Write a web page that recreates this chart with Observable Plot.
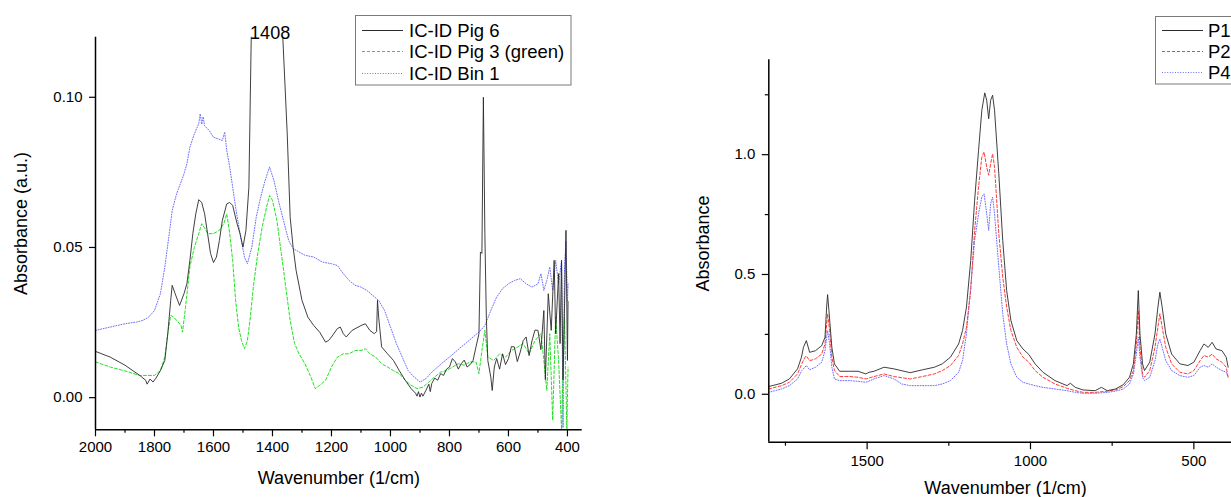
<!DOCTYPE html>
<html>
<head>
<meta charset="utf-8">
<script src="https://cdn.jsdelivr.net/npm/d3@7"></script>
<script src="https://cdn.jsdelivr.net/npm/@observablehq/plot@0.6"></script>
<style>
  html, body { margin: 0; padding: 0; background: #fff; }
  #wrap { position: relative; width: 1231px; height: 497px; overflow: hidden; font-family: "Liberation Sans", Arial, sans-serif; }
  .panel { position: absolute; top: 0; }
  .panel svg { max-width: none !important; }
  #legends { position: absolute; left: 0; top: 0; }
</style>
</head>
<body>
<div id="wrap">
  <div id="leftPanel" class="panel" style="left:0;width:600px"></div>
  <div id="rightPanel" class="panel" style="left:600px;width:660px"></div>
  <svg id="legends" width="1231" height="497"></svg>
</div>
<script>
// ---------------- LEFT PANEL DATA: [wavenumber, absorbance] ----------------
const pig6 = [[2000,0.0154],[1950,0.0135],[1900,0.0108],[1850,0.0074],[1830,0.0058],[1825,0.0045],[1815,0.0062],[1805,0.0052],[1795,0.0065],[1780,0.009],[1765,0.0124],[1755,0.0213],[1745,0.0324],[1740,0.0374],[1730,0.0346],[1715,0.0307],[1700,0.0346],[1690,0.038],[1680,0.0457],[1670,0.0546],[1660,0.0612],[1650,0.0659],[1640,0.065],[1630,0.0612],[1620,0.0546],[1610,0.048],[1600,0.045],[1590,0.0468],[1580,0.0523],[1570,0.059],[1555,0.0645],[1545,0.065],[1535,0.064],[1520,0.0579],[1510,0.0546],[1500,0.0501],[1490,0.0557],[1480,0.070],[1472,0.12],[1460,0.14],[1440,0.155],[1420,0.163],[1408,0.166],[1395,0.16],[1380,0.145],[1365,0.12],[1350,0.0878],[1340,0.060],[1330,0.050],[1320,0.0424],[1300,0.0324],[1280,0.0268],[1260,0.024],[1240,0.0218],[1220,0.0185],[1210,0.019],[1200,0.0202],[1180,0.023],[1170,0.0235],[1160,0.0213],[1150,0.0202],[1130,0.0224],[1100,0.024],[1085,0.0246],[1070,0.0224],[1055,0.0213],[1047,0.022],[1044,0.0324],[1040,0.0268],[1030,0.0169],[1010,0.0146],[990,0.0124],[970,0.009],[950,0.0058],[930,0.003],[915,0.0015],[910,0.0005],[905,0.002],[900,0.0002],[895,0.0015],[890,0.0005],[880,0.0024],[870,0.0045],[865,0.002],[860,0.0047],[850,0.0065],[840,0.0058],[830,0.008],[820,0.0074],[810,0.0095],[800,0.0102],[790,0.013],[780,0.0119],[770,0.0095],[760,0.0113],[750,0.0125],[740,0.0102],[730,0.011],[720,0.0124],[710,0.0169],[700,0.0213],[695,0.0485],[690,0.048],[685,0.100],[680,0.0546],[675,0.0268],[670,0.0124],[660,0.0069],[655,0.0024],[648,0.0102],[640,0.013],[630,0.0095],[620,0.0146],[610,0.011],[600,0.013],[590,0.017],[580,0.0169],[570,0.012],[560,0.0152],[550,0.019],[540,0.0202],[530,0.014],[520,0.019],[510,0.0225],[500,0.0224],[490,0.016],[480,0.029],[475,0.006],[465,0.0346],[455,0.0224],[445,0.0457],[440,0.0213],[430,0.0413],[425,0.018],[420,0.0457],[415,0.006],[410,0.03],[405,0.0557],[400,0.0124],[398,0.032]];

const pig3 = [[2000,0.0119],[1950,0.0102],[1900,0.0089],[1850,0.0074],[1800,0.0074],[1780,0.009],[1765,0.0135],[1755,0.0213],[1745,0.0274],[1735,0.0268],[1720,0.0252],[1710,0.024],[1705,0.0218],[1695,0.030],[1680,0.0435],[1665,0.050],[1650,0.0546],[1640,0.0579],[1630,0.0565],[1620,0.0546],[1600,0.0546],[1580,0.0557],[1565,0.0579],[1555,0.0612],[1545,0.0546],[1535,0.0457],[1525,0.0324],[1515,0.0235],[1505,0.019],[1495,0.0163],[1485,0.019],[1475,0.0268],[1465,0.0368],[1450,0.048],[1435,0.0568],[1420,0.0634],[1410,0.0673],[1400,0.0657],[1385,0.059],[1370,0.048],[1355,0.0368],[1340,0.0257],[1325,0.018],[1310,0.0146],[1290,0.0113],[1270,0.0069],[1255,0.003],[1240,0.0041],[1220,0.0058],[1200,0.0102],[1180,0.0135],[1160,0.0146],[1140,0.0146],[1120,0.0157],[1100,0.0157],[1085,0.0163],[1070,0.0146],[1050,0.0135],[1030,0.0113],[1010,0.0102],[990,0.009],[970,0.008],[950,0.0058],[930,0.0041],[910,0.003],[890,0.0035],[870,0.0052],[850,0.0069],[830,0.0085],[810,0.009],[790,0.0102],[770,0.0113],[750,0.0108],[730,0.0119],[710,0.0119],[700,0.008],[690,0.0157],[680,0.0224],[670,0.0135],[650,0.0124],[630,0.0146],[610,0.0135],[590,0.0157],[570,0.0168],[550,0.018],[530,0.0146],[510,0.019],[490,0.0213],[480,0.0124],[470,0.0024],[460,0.0213],[450,-0.0075],[440,0.0268],[430,0.0124],[420,-0.0105],[410,0.0268],[402,-0.0105],[398,0.0102]];

const bin1 = [[2000,0.0224],[1950,0.0235],[1900,0.0246],[1860,0.0252],[1840,0.0257],[1820,0.0268],[1800,0.029],[1780,0.0346],[1765,0.0435],[1750,0.0546],[1740,0.0623],[1725,0.0679],[1710,0.0718],[1700,0.0745],[1690,0.0779],[1680,0.0834],[1665,0.0878],[1650,0.0912],[1645,0.0945],[1640,0.091],[1635,0.0935],[1630,0.0905],[1615,0.089],[1600,0.0867],[1585,0.0862],[1570,0.0856],[1562,0.0884],[1555,0.0823],[1545,0.0768],[1535,0.0701],[1525,0.0634],[1510,0.0546],[1495,0.0468],[1485,0.0446],[1470,0.0501],[1455,0.0601],[1440,0.0668],[1425,0.0723],[1410,0.0768],[1395,0.0723],[1380,0.0657],[1360,0.0579],[1345,0.0523],[1330,0.0496],[1310,0.0485],[1290,0.0474],[1260,0.0468],[1230,0.0451],[1200,0.0446],[1180,0.044],[1160,0.0413],[1140,0.039],[1120,0.0374],[1100,0.0368],[1080,0.0357],[1060,0.034],[1040,0.0324],[1020,0.029],[1000,0.0235],[980,0.018],[960,0.0135],[940,0.009],[920,0.0069],[900,0.0052],[880,0.0063],[860,0.0085],[840,0.0102],[820,0.0119],[800,0.0135],[780,0.0152],[760,0.0169],[740,0.0185],[720,0.0202],[700,0.0218],[680,0.024],[660,0.029],[640,0.0335],[620,0.0363],[600,0.0379],[580,0.039],[560,0.0396],[540,0.0379],[520,0.0368],[500,0.0379],[490,0.0413],[480,0.0357],[470,0.039],[460,0.0435],[450,0.0357],[440,0.0457],[430,0.0379],[420,0.0457],[415,-0.0100],[410,0.0435],[405,0.052],[400,0.032],[398,0.0379]];

// ---------------- RIGHT PANEL DATA ----------------
const p1 = [[1802,0.032],[1762,0.046],[1738,0.064],[1713,0.106],[1701,0.155],[1695,0.196],[1686,0.224],[1676,0.175],[1658,0.182],[1639,0.203],[1629,0.238],[1624,0.364],[1621,0.416],[1617,0.35],[1608,0.196],[1600,0.127],[1584,0.096],[1553,0.096],[1528,0.096],[1504,0.085],[1494,0.092],[1479,0.096],[1448,0.113],[1418,0.106],[1368,0.09],[1331,0.102],[1294,0.113],[1270,0.127],[1245,0.155],[1220,0.21],[1208,0.266],[1196,0.364],[1183,0.558],[1171,0.81],[1159,1.018],[1149,1.185],[1140,1.258],[1134,1.227],[1128,1.15],[1122,1.227],[1116,1.248],[1110,1.185],[1097,0.92],[1085,0.642],[1073,0.433],[1060,0.308],[1042,0.224],[1023,0.189],[1005,0.166],[986,0.127],[962,0.092],[925,0.057],[888,0.036],[878,0.046],[863,0.029],[839,0.018],[802,0.015],[783,0.029],[765,0.015],[740,0.022],[716,0.04],[697,0.071],[685,0.127],[676,0.252],[670,0.433],[665,0.252],[657,0.127],[651,0.099],[635,0.134],[619,0.252],[610,0.364],[604,0.426],[597,0.364],[586,0.252],[568,0.168],[543,0.127],[518,0.12],[500,0.134],[481,0.182],[469,0.21],[456,0.196],[444,0.217],[432,0.189],[414,0.182],[401,0.155],[395,0.113]];

const p2 = [[1802,0.022],[1762,0.036],[1738,0.05],[1713,0.085],[1700,0.127],[1690,0.155],[1686,0.16],[1676,0.14],[1658,0.148],[1639,0.168],[1629,0.21],[1621,0.336],[1615,0.266],[1608,0.155],[1600,0.099],[1584,0.074],[1553,0.074],[1528,0.071],[1504,0.064],[1479,0.074],[1448,0.085],[1418,0.074],[1368,0.064],[1331,0.074],[1294,0.085],[1270,0.099],[1245,0.12],[1220,0.162],[1208,0.21],[1196,0.28],[1183,0.433],[1171,0.684],[1159,0.865],[1149,0.99],[1142,1.011],[1134,0.948],[1128,0.914],[1122,0.962],[1116,1.004],[1110,0.948],[1097,0.67],[1085,0.489],[1073,0.364],[1060,0.266],[1042,0.196],[1023,0.155],[1005,0.134],[986,0.099],[962,0.071],[925,0.043],[888,0.025],[863,0.015],[839,0.008],[802,0.008],[765,0.013],[740,0.018],[716,0.032],[697,0.057],[685,0.099],[676,0.21],[670,0.35],[665,0.196],[657,0.085],[651,0.071],[635,0.099],[619,0.196],[610,0.28],[604,0.336],[597,0.28],[586,0.196],[568,0.127],[543,0.092],[518,0.085],[500,0.099],[481,0.14],[469,0.162],[456,0.155],[444,0.168],[432,0.148],[414,0.134],[401,0.113],[395,0.071]];

const p4 = [[1802,0.008],[1762,0.022],[1738,0.036],[1713,0.064],[1700,0.099],[1686,0.12],[1676,0.102],[1658,0.113],[1639,0.134],[1629,0.182],[1621,0.266],[1615,0.21],[1608,0.113],[1600,0.064],[1584,0.057],[1553,0.057],[1528,0.054],[1504,0.05],[1479,0.064],[1448,0.078],[1418,0.064],[1394,0.043],[1368,0.036],[1331,0.036],[1294,0.036],[1270,0.043],[1245,0.057],[1220,0.092],[1208,0.14],[1196,0.252],[1183,0.447],[1171,0.642],[1159,0.753],[1149,0.823],[1142,0.837],[1134,0.753],[1128,0.684],[1122,0.795],[1116,0.823],[1110,0.753],[1097,0.531],[1085,0.336],[1073,0.21],[1060,0.127],[1042,0.071],[1023,0.05],[1005,0.043],[986,0.036],[962,0.029],[925,0.022],[888,0.015],[863,0.008],[839,0.004],[802,0.004],[765,0.008],[740,0.013],[716,0.022],[697,0.043],[685,0.085],[676,0.168],[670,0.238],[665,0.155],[657,0.071],[651,0.057],[635,0.071],[619,0.14],[610,0.21],[604,0.231],[597,0.196],[586,0.14],[568,0.099],[543,0.078],[518,0.071],[500,0.078],[481,0.113],[469,0.12],[456,0.113],[444,0.127],[432,0.113],[414,0.099],[401,0.092],[395,0.071]];

// ---------------- TICKS / LABELS ----------------
const leftXMajor = [2000,1800,1600,1400,1200,1000,800,600,400];
const leftXMinor = [1900,1700,1500,1300,1100,900,700,500];
const leftYMajor = [0.00,0.05,0.10];
const rightXMajor = [1500,1000,500];
const rightXMinor = [1750,1250,750];
const rightYMajor = [0.0,0.5,1.0];
const rightYMinor = [0.25,0.75,1.25];

const leftSeries = [
  {name: "IC-ID Pig 6", data: pig6, color: "#2a2a2a", dash: null, width: 0.9},
  {name: "IC-ID Pig 3 (green)", data: pig3, color: "#22e022", dash: "3,2", width: 1},
  {name: "IC-ID Bin 1", data: bin1, color: "#6f6fff", dash: "1,1.6", width: 1}
];
const rightSeries = [
  {name: "P1", data: p1, color: "#2a2a2a", dash: null, width: 0.9},
  {name: "P2", data: p2, color: "#ff3b3b", dash: "3,2", width: 1},
  {name: "P4", data: p4, color: "#6f6fff", dash: "1,1.6", width: 1}
];

const FONT = "'Liberation Sans', Arial, sans-serif";

function lineMarks(series) {
  return series.slice().reverse().map(s => Plot.line(s.data, {
    x: d => d[0], y: d => d[1], stroke: s.color, strokeWidth: s.width,
    strokeDasharray: s.dash, clip: true, curve: "linear"
  }));
}

// ---------------- LEFT PLOT ----------------
const leftYMin = -0.0107, leftYMax = 0.12;
const left = Plot.plot({
  width: 600, height: 497,
  marginLeft: 95, marginRight: 18.3, marginTop: 36.7, marginBottom: 67.7,
  style: {fontFamily: FONT, fontSize: "15px", color: "#000", background: "transparent", maxWidth: "none"},
  x: {domain: [2000, 350]},
  y: {domain: [leftYMin, leftYMax]},
  marks: [
    ...lineMarks(leftSeries),
    Plot.axisX({ticks: leftXMajor, tickSize: 7, tickPadding: 5, tickFormat: d => String(d), label: null, strokeWidth: 1.2}),
    Plot.axisX({ticks: leftXMinor, tickSize: 3.5, tickFormat: () => "", label: null, strokeWidth: 1.2}),
    Plot.axisY({ticks: leftYMajor, tickSize: 6, tickPadding: 7, tickFormat: d3.format(".2f"), label: null, strokeWidth: 1.2}),
    Plot.ruleX([2000], {stroke: "#000", strokeWidth: 1.5}),
    Plot.ruleY([leftYMin], {stroke: "#000", strokeWidth: 1.5}),
    Plot.text(["1408"], {x: 1408, frameAnchor: "top", dy: -3.5, lineAnchor: "middle", fontSize: 18, fill: "#000"}),
    Plot.text(["Absorbance (a.u.)"], {frameAnchor: "left", dx: -74, dy: -10, rotate: -90, textAnchor: "middle", lineAnchor: "middle", fontSize: 18, fill: "#000"}),
    Plot.text(["Wavenumber (1/cm)"], {frameAnchor: "bottom", dy: 48.7, lineAnchor: "middle", fontSize: 18, fill: "#000"})
  ]
});
document.getElementById("leftPanel").appendChild(left);

// ---------------- RIGHT PLOT ----------------
const rightYMin = -0.2, rightYMax = 1.396;
const right = Plot.plot({
  width: 660, height: 497,
  marginLeft: 168.3, marginRight: 18.3, marginTop: 59.3, marginBottom: 55.3,
  style: {fontFamily: FONT, fontSize: "15px", color: "#000", background: "transparent", maxWidth: "none"},
  x: {domain: [1801, 352]},
  y: {domain: [rightYMin, rightYMax]},
  marks: [
    ...lineMarks(rightSeries),
    Plot.axisX({ticks: rightXMajor, tickSize: 7.5, tickPadding: 6, tickFormat: d => String(d), label: null, strokeWidth: 1.2}),
    Plot.axisX({ticks: rightXMinor, tickSize: 4, tickFormat: () => "", label: null, strokeWidth: 1.2}),
    Plot.axisY({ticks: rightYMajor, tickSize: 6.5, tickPadding: 7, tickFormat: d3.format(".1f"), label: null, strokeWidth: 1.2}),
    Plot.axisY({ticks: rightYMinor, tickSize: 3.5, tickFormat: () => "", label: null, strokeWidth: 1.2}),
    Plot.ruleX([1801], {stroke: "#000", strokeWidth: 1.5}),
    Plot.ruleY([rightYMin], {stroke: "#000", strokeWidth: 1.5}),
    Plot.text(["Absorbance"], {frameAnchor: "left", dx: -65.3, dy: -7.5, rotate: -90, textAnchor: "middle", lineAnchor: "middle", fontSize: 18, fill: "#000"}),
    Plot.text(["Wavenumber (1/cm)"], {frameAnchor: "bottom", dy: 46.5, lineAnchor: "middle", fontSize: 18, fill: "#000"})
  ]
});
document.getElementById("rightPanel").appendChild(right);
right.style.maxWidth = "none";
left.style.maxWidth = "none";

// ---------------- LEGENDS ----------------
const ns = "http://www.w3.org/2000/svg";
const lg = document.getElementById("legends");
function el(tag, attrs, parent) {
  const e = document.createElementNS(ns, tag);
  for (const k in attrs) e.setAttribute(k, attrs[k]);
  parent.appendChild(e);
  return e;
}
function legend(series, box, rows, lineX0, lineX1, textX) {
  el("rect", {x: box[0], y: box[1], width: box[2], height: box[3], fill: "#fff", stroke: "#7a7a7a", "stroke-width": 1}, lg);
  series.forEach((s, i) => {
    const y = rows[i];
    const ln = el("line", {x1: lineX0, x2: lineX1, y1: y, y2: y, stroke: s.color, "stroke-width": 1.2}, lg);
    if (s.dash) ln.setAttribute("stroke-dasharray", s.dash);
    const t = el("text", {x: textX, y: y, "dominant-baseline": "central", "font-family": FONT, "font-size": 18.5, fill: "#000"}, lg);
    t.textContent = s.name;
  });
}
legend(leftSeries, [355.5, 15.5, 215.5, 69.5], [30.5, 51.5, 73.5], 362, 403, 409);
legend(rightSeries, [1155.5, 16.5, 100, 67.5], [30.5, 51.5, 72.5], 1162, 1203, 1208);
</script>
</body>
</html>
